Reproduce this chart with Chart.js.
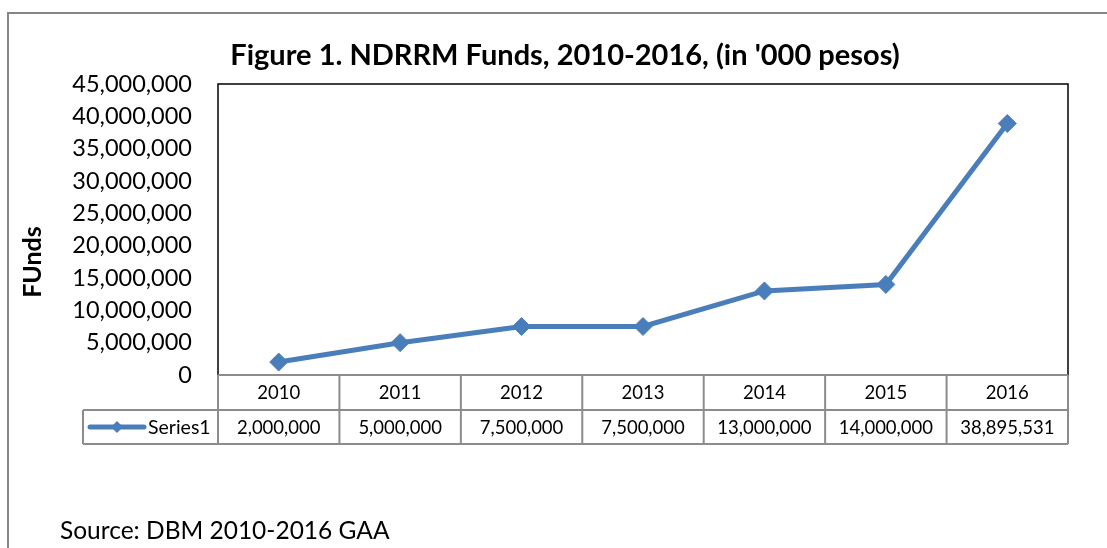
<!DOCTYPE html>
<html>
<head>
<meta charset="utf-8">
<script src="https://cdn.jsdelivr.net/npm/chart.js@4.4.1/dist/chart.umd.min.js"></script>
<style>
html,body{margin:0;padding:0;background:#fff;}
#wrap{position:relative;width:1107px;height:548px;}
</style>
</head>
<body>
<div id="wrap"><canvas id="c"></canvas></div>
<script>
const categories = ['2010', '2011', '2012', '2013', '2014', '2015', '2016'];
const seriesName = 'Series1';
const funds = [2000000, 5000000, 7500000, 7500000, 13000000, 14000000, 38895531];
const yTicks = [0, 5000000, 10000000, 15000000, 20000000, 25000000, 30000000, 35000000, 40000000, 45000000];
const titleText = "Figure 1. NDRRM Funds, 2010-2016, (in '000 pesos)";
const yTitleText = 'FUnds';
const sourceText = 'Source: DBM 2010-2016 GAA';

const BLUE = '#4a7ebb';
const fmt = v => Math.round(v).toLocaleString('en-US');

const tablePlugin = {
  id: 'tablePlugin',
  afterDraw(chart) {
    const ctx = chart.ctx;
    const area = chart.chartArea;
    const xs = chart.scales.x;
    const top = area.bottom, mid = top + 35, bot = mid + 34;
    const legendLeft = 83;
    ctx.save();
    // outer frame
    ctx.strokeStyle = '#868686';
    ctx.lineWidth = 2;
    ctx.strokeRect(8, 13, 1300, 700);
    // plot frame (left, top, right)
    ctx.strokeStyle = '#000';
    ctx.lineWidth = 1.5;
    ctx.beginPath();
    ctx.moveTo(area.left, area.bottom);
    ctx.lineTo(area.left, area.top);
    ctx.lineTo(area.right, area.top);
    ctx.lineTo(area.right, area.bottom);
    ctx.stroke();
    // table grid
    const bounds = [area.left];
    for (let i = 0; i < categories.length - 1; i++) {
      bounds.push((xs.getPixelForValue(i) + xs.getPixelForValue(i + 1)) / 2);
    }
    bounds.push(area.right);
    ctx.strokeStyle = '#8c8c8c';
    ctx.lineWidth = 2;
    ctx.beginPath();
    ctx.moveTo(area.left, top); ctx.lineTo(area.right, top);
    ctx.moveTo(legendLeft, mid); ctx.lineTo(area.right, mid);
    ctx.moveTo(legendLeft, bot); ctx.lineTo(area.right, bot);
    bounds.forEach(b => { ctx.moveTo(b, top); ctx.lineTo(b, bot); });
    ctx.moveTo(legendLeft, mid); ctx.lineTo(legendLeft, bot);
    ctx.stroke();
    // table text
    ctx.fillStyle = '#000';
    ctx.font = '18.5px Lato';
    ctx.textAlign = 'center';
    ctx.textBaseline = 'middle';
    categories.forEach((c, i) => {
      const cx = xs.getPixelForValue(i);
      ctx.fillText(c, cx, (top + mid) / 2 + 1);
      ctx.fillText(fmt(funds[i]), cx, (mid + bot) / 2 + 1);
    });
    // legend key
    const ly = (mid + bot) / 2;
    ctx.strokeStyle = BLUE;
    ctx.lineWidth = 5;
    ctx.lineCap = 'round';
    ctx.beginPath(); ctx.moveTo(90, ly); ctx.lineTo(144, ly); ctx.stroke();
    ctx.fillStyle = BLUE;
    ctx.beginPath();
    ctx.moveTo(117 - 6, ly); ctx.lineTo(117, ly - 6); ctx.lineTo(117 + 6, ly); ctx.lineTo(117, ly + 6);
    ctx.closePath(); ctx.fill();
    ctx.fillStyle = '#000';
    ctx.textAlign = 'left';
    ctx.font = '19.5px Lato';
    ctx.fillText(seriesName, 148, ly + 1);
    // y axis title
    ctx.save();
    ctx.translate(33, 262);
    ctx.rotate(-Math.PI / 2);
    ctx.font = 'bold 25px Lato';
    ctx.textAlign = 'center';
    ctx.fillText(yTitleText, 0, 0);
    ctx.restore();
    // source
    ctx.font = '24.5px Lato';
    ctx.textAlign = 'left';
    ctx.fillText(sourceText, 60, 531);
    ctx.restore();
  }
};

new Chart(document.getElementById('c'), {
  type: 'line',
  data: {
    labels: categories,
    datasets: [{
      label: seriesName,
      data: funds,
      borderColor: BLUE,
      backgroundColor: BLUE,
      borderWidth: 5,
      pointStyle: 'rectRot',
      pointRadius: 9,
      pointBorderWidth: 1,
      pointBackgroundColor: BLUE,
      pointBorderColor: BLUE,
      tension: 0
    }]
  },
  options: {
    responsive: true,
    maintainAspectRatio: false,
    devicePixelRatio: 1,
    animation: false,
    layout: { padding: { left: 62, right: 39, top: 13, bottom: 173 } },
    plugins: {
      legend: { display: false },
      tooltip: { enabled: false },
      title: {
        display: true,
        text: titleText,
        color: '#000',
        font: { family: 'Lato', size: 29, weight: 'bold', lineHeight: 1.2 },
        padding: { top: 25.6, bottom: 10.6 }
      }
    },
    scales: {
      x: {
        type: 'category',
        display: false,
        offset: true
      },
      y: {
        min: 0,
        max: 45000000,
        afterFit(scale) { scale.width = 156; },
        afterBuildTicks(scale) { scale.ticks = yTicks.map(v => ({ value: v })); },
        grid: { display: false, drawTicks: false },
        border: { display: false },
        ticks: {
          color: '#000',
          padding: 26,
          font: { family: 'Lato', size: 23.5 },
          callback: v => fmt(v)
        }
      }
    }
  },
  plugins: [tablePlugin]
});
</script>
</body>
</html>
